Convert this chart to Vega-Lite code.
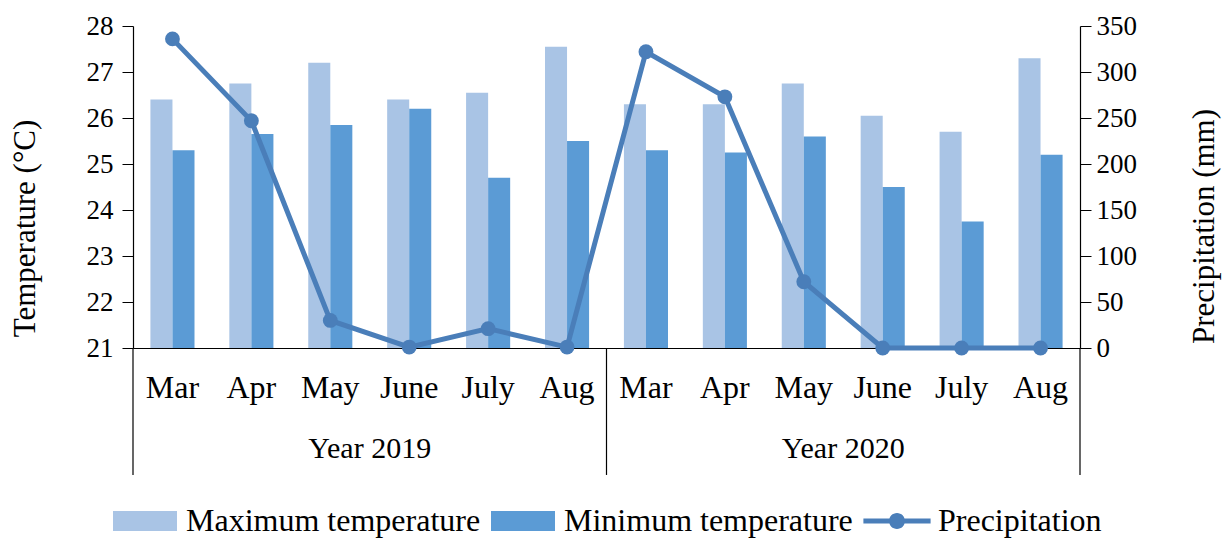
{
  "$schema": "https://vega.github.io/schema/vega-lite/v6.json",
  "width": 947,
  "height": 322,
  "autosize": {"type": "none"},
  "padding": {"left": 133, "top": 26, "right": 142, "bottom": 190},
  "background": "white",
  "config": {
    "font": "Liberation Serif",
    "view": {"stroke": null},
    "axis": {
      "labelFont": "Liberation Serif",
      "titleFont": "Liberation Serif",
      "labelColor": "black",
      "titleColor": "black",
      "domainColor": "black",
      "tickColor": "black",
      "grid": false,
      "titleFontWeight": "normal"
    },
    "legend": {"labelFont": "Liberation Serif", "labelColor": "black"}
  },
  "datasets": {
    "temps": [
      {"key": "2019 Mar", "series": "Maximum temperature", "temp": 26.4},
      {"key": "2019 Mar", "series": "Minimum temperature", "temp": 25.3},
      {"key": "2019 Apr", "series": "Maximum temperature", "temp": 26.75},
      {"key": "2019 Apr", "series": "Minimum temperature", "temp": 25.65},
      {"key": "2019 May", "series": "Maximum temperature", "temp": 27.2},
      {"key": "2019 May", "series": "Minimum temperature", "temp": 25.85},
      {"key": "2019 June", "series": "Maximum temperature", "temp": 26.4},
      {"key": "2019 June", "series": "Minimum temperature", "temp": 26.2},
      {"key": "2019 July", "series": "Maximum temperature", "temp": 26.55},
      {"key": "2019 July", "series": "Minimum temperature", "temp": 24.7},
      {"key": "2019 Aug", "series": "Maximum temperature", "temp": 27.55},
      {"key": "2019 Aug", "series": "Minimum temperature", "temp": 25.5},
      {"key": "2020 Mar", "series": "Maximum temperature", "temp": 26.3},
      {"key": "2020 Mar", "series": "Minimum temperature", "temp": 25.3},
      {"key": "2020 Apr", "series": "Maximum temperature", "temp": 26.3},
      {"key": "2020 Apr", "series": "Minimum temperature", "temp": 25.25},
      {"key": "2020 May", "series": "Maximum temperature", "temp": 26.75},
      {"key": "2020 May", "series": "Minimum temperature", "temp": 25.6},
      {"key": "2020 June", "series": "Maximum temperature", "temp": 26.05},
      {"key": "2020 June", "series": "Minimum temperature", "temp": 24.5},
      {"key": "2020 July", "series": "Maximum temperature", "temp": 25.7},
      {"key": "2020 July", "series": "Minimum temperature", "temp": 23.75},
      {"key": "2020 Aug", "series": "Maximum temperature", "temp": 27.3},
      {"key": "2020 Aug", "series": "Minimum temperature", "temp": 25.2}
    ],
    "precip": [
      {"key": "2019 Mar", "precipitation": 336},
      {"key": "2019 Apr", "precipitation": 247},
      {"key": "2019 May", "precipitation": 30},
      {"key": "2019 June", "precipitation": 1},
      {"key": "2019 July", "precipitation": 21},
      {"key": "2019 Aug", "precipitation": 1},
      {"key": "2020 Mar", "precipitation": 322},
      {"key": "2020 Apr", "precipitation": 273},
      {"key": "2020 May", "precipitation": 72},
      {"key": "2020 June", "precipitation": 0},
      {"key": "2020 July", "precipitation": 0},
      {"key": "2020 Aug", "precipitation": 0}
    ],
    "years": [
      {"key": "2019 May", "label": "Year 2019"},
      {"key": "2020 May", "label": "Year 2020"}
    ],
    "sepStart": [
      {"key": "2019 Mar"},
      {"key": "2020 Mar"}
    ],
    "sepEnd": [
      {"key": "2020 Aug"}
    ]
  },
  "encoding": {
    "x": {
      "field": "key",
      "type": "nominal",
      "scale": {
        "domain": ["2019 Mar", "2019 Apr", "2019 May", "2019 June", "2019 July", "2019 Aug", "2020 Mar", "2020 Apr", "2020 May", "2020 June", "2020 July", "2020 Aug"],
        "paddingInner": 0,
        "paddingOuter": 0
      },
      "axis": {
        "title": null,
        "labelAngle": 0,
        "labelExpr": "split(datum.label, ' ')[1]",
        "labelFontSize": 32,
        "labelPadding": 24,
        "ticks": false,
        "domainWidth": 1.2
      }
    }
  },
  "layer": [
    {
      "layer": [
        {
          "data": {"name": "temps"},
          "mark": {"type": "bar"},
          "encoding": {
            "xOffset": {
              "field": "series",
              "type": "nominal",
              "scale": {"paddingInner": 0, "paddingOuter": 0.79}
            },
            "y": {
              "field": "temp",
              "type": "quantitative",
              "scale": {"domain": [21, 28], "zero": false, "nice": false},
              "axis": {
                "title": "Temperature (°C)",
                "orient": "left",
                "values": [21, 22, 23, 24, 25, 26, 27, 28],
                "labelFontSize": 27,
                "titleFontSize": 31,
                "titleY": 202,
                "tickSize": 11,
                "labelPadding": 9,
                "titlePadding": 45,
                "domainWidth": 1.2
              }
            },
            "y2": {"datum": 21},
            "color": {
              "field": "series",
              "type": "nominal",
              "scale": {
                "domain": ["Maximum temperature", "Minimum temperature", "Precipitation"],
                "range": ["#a9c4e5", "#5b9bd5", "#4a7eb9"]
              },
              "legend": {
                "title": null,
                "orient": "none",
                "direction": "horizontal",
                "legendX": -20,
                "legendY": 463,
                "labelFontSize": 32,
                "labelLimit": 500,
                "symbolSize": 4096,
                "labelOffset": 9,
                "columnPadding": 10,
                "symbolStrokeWidth": 0,
                "encode": {
                  "symbols": {
                    "update": {
                      "shape": {"signal": "datum.value === 'Precipitation' ? 'M-1.05,-0.08H1.05V0.08H-1.05Z M0.25,0A0.25,0.25 0 1,1 -0.25,0A0.25,0.25 0 1,1 0.25,0Z' : 'M-1,-0.3125H1V0.3125H-1Z'"},
                      "fill": {"scale": "color", "field": "value"},
                      "stroke": {"value": "transparent"},
                      "opacity": {"value": 1},
                      "fillOpacity": {"value": 1}
                    }
                  }
                }
              }
            }
          }
        },
        {
          "data": {"name": "years"},
          "mark": {"type": "text", "fontSize": 30, "font": "Liberation Serif", "color": "black", "baseline": "alphabetic", "align": "center"},
          "encoding": {
            "x": {"field": "key", "type": "nominal", "bandPosition": 1},
            "y": {"datum": 18.61, "type": "quantitative", "scale": {"domain": [21, 28], "zero": false, "nice": false}},
            "text": {"field": "label"}
          }
        },
        {
          "data": {"name": "sepStart"},
          "mark": {"type": "rule", "color": "black", "strokeWidth": 1.2},
          "encoding": {
            "x": {"field": "key", "type": "nominal", "bandPosition": 0},
            "y": {"datum": 21, "type": "quantitative", "scale": {"domain": [21, 28], "zero": false, "nice": false}},
            "y2": {"datum": 18.24}
          }
        },
        {
          "data": {"name": "sepEnd"},
          "mark": {"type": "rule", "color": "black", "strokeWidth": 1.2},
          "encoding": {
            "x": {"field": "key", "type": "nominal", "bandPosition": 1},
            "y": {"datum": 21, "type": "quantitative", "scale": {"domain": [21, 28], "zero": false, "nice": false}},
            "y2": {"datum": 18.24}
          }
        }
      ]
    },
    {
      "data": {"name": "precip"},
      "layer": [
        {
          "mark": {"type": "line", "strokeWidth": 5},
          "encoding": {
            "y": {
              "field": "precipitation",
              "type": "quantitative",
              "scale": {"domain": [0, 350], "nice": false},
              "axis": {
                "title": "Precipitation (mm)",
                "orient": "right",
                "values": [0, 50, 100, 150, 200, 250, 300, 350],
                "labelFontSize": 27,
                "titleFontSize": 31,
                "titleAngle": 270,
                "titleY": 200,
                "tickSize": 11,
                "labelPadding": 5,
                "titlePadding": 84,
                "domainWidth": 1.2
              }
            },
            "color": {"datum": "Precipitation", "type": "nominal"}
          }
        },
        {
          "mark": {"type": "point", "filled": true, "size": 220, "opacity": 1},
          "encoding": {
            "y": {"field": "precipitation", "type": "quantitative", "scale": {"domain": [0, 350], "nice": false}},
            "color": {"datum": "Precipitation", "type": "nominal"}
          }
        }
      ]
    }
  ],
  "resolve": {"scale": {"y": "independent"}}
}
